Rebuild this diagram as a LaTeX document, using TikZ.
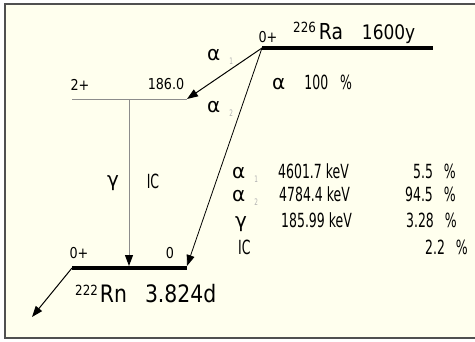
\documentclass[tikz,border=0pt]{standalone}
\usepackage{fontspec}
\setmainfont{DejaVu Sans}[FakeStretch=0.64]
\newfontfamily\bigfont{DejaVu Sans}[FakeStretch=0.85]
\newfontfamily\smallfont{DejaVu Sans}[FakeStretch=0.85]
\newfontfamily\grkfont{DejaVu Sans}
\usetikzlibrary{arrows.meta}
\definecolor{paper}{RGB}{255,255,238}
\definecolor{framegray}{RGB}{80,80,80}
\newcommand\grk[1]{{\grkfont\fontsize{20}{20}\selectfont #1}}
\newcommand\faintsub[1]{\raisebox{-4pt}{\color{black!30}\fontsize{9}{9}\selectfont #1}}
\newcommand\nucl[1]{\raisebox{7pt}{\fontsize{14}{14}\selectfont #1}}

\begin{document}
\begin{tikzpicture}[x=1pt, y=-1pt,
  level/.style={line width=3.5pt},
  sublevel/.style={draw=black!45, line width=1pt},
  trans/.style={-{Triangle[length=11pt, width=8pt, color=black]}, line width=1pt},
  small/.style={font=\smallfont\fontsize{15}{15}\selectfont, inner sep=0pt},
  big/.style={font=\bigfont\fontsize{20}{20}\selectfont, inner sep=0pt, anchor=base west},
  tab/.style={font=\fontsize{19.5}{19.5}\selectfont, inner sep=0pt, anchor=base west},
  pct/.style={font=\fontsize{19.5}{19.5}\selectfont, inner sep=0pt, anchor=base east}
]
  \useasboundingbox (0,0) rectangle (475,341);
  \draw[draw=framegray, fill=paper, line width=2pt] (5,4) rectangle (490,338);

  \coordinate (raL) at (262,48);
  \coordinate (raR) at (433,48);
  \coordinate (exL) at (72,99);
  \coordinate (exR) at (187,99);
  \coordinate (gsL) at (72,268);
  \coordinate (gsR) at (187,268);
  \coordinate (gtop) at (129,99);
  \coordinate (gbot) at (129,266);
  \coordinate (out) at (32,317);

  \draw[level] (raL) -- (raR);
  \draw[sublevel] (exL) -- (exR);
  \draw[level] (gsL) -- (gsR);
  \draw[trans] (raL) -- (exR);
  \draw[trans, line width=0.8pt] (raL) -- (187,266);
  \draw[trans, draw=black!45] (gtop) -- (gbot);
  \draw[trans] (gsL) -- (out);

  \node[small] (raspin) at (268,37) {0+};
  \node[big] (ralbl) at (293,39) {\nucl{226}\hspace{3pt}{\fontsize{22}{22}\selectfont Ra}\hspace{19pt}1600y};
  \node[tab] (branch) at (272,89) {\grk{α}\hspace{19pt}100\hspace{12pt}\%};

  \node[tab, anchor=center] (a1lbl) at (220,57) {\grk{α}\hspace{9pt}\faintsub{1}};
  \node[tab, anchor=center] (a2lbl) at (220,109) {\grk{α}\hspace{9pt}\faintsub{2}};

  \node[small] (exspin) at (80,85) {2+};
  \node[small] (exen) at (166,84) {186.0};
  \node[tab, anchor=center] (glbl) at (113,183) {\grk{γ}};
  \node[tab, anchor=center] (iclbl) at (153,181) {IC};

  \node[small] (gsspin) at (79,253) {0+};
  \node[small] (gsen) at (170,253) {0};
  \node[big, font=\bigfont\fontsize{24}{24}\selectfont] (rnlbl) at (75,302) {\nucl{222}\hspace{2pt}Rn\hspace{18pt}3.824d};

  \node[tab] (a1sym) at (232,178) {\grk{α}\hspace{9pt}\faintsub{1}};
  \node[tab] (a1en) at (278,178) {4601.7 keV};
  \node[pct] (a1pct) at (456,178) {5.5\hspace{11pt}\%};
  \node[tab] (a2sym) at (232,201) {\grk{α}\hspace{9pt}\faintsub{2}};
  \node[tab] (a2en) at (279,201) {4784.4 keV};
  \node[pct] (a2pct) at (456,201) {94.5\hspace{11pt}\%};
  \node[tab] (gsym) at (235,227) {\grk{γ}};
  \node[tab] (gen) at (281,227) {185.99 keV};
  \node[pct] (gpct) at (457,227) {3.28\hspace{11pt}\%};
  \node[tab] (icsym) at (238,254) {IC};
  \node[pct] (icpct) at (468,254) {2.2\hspace{11pt}\%};
\end{tikzpicture}
\end{document}
